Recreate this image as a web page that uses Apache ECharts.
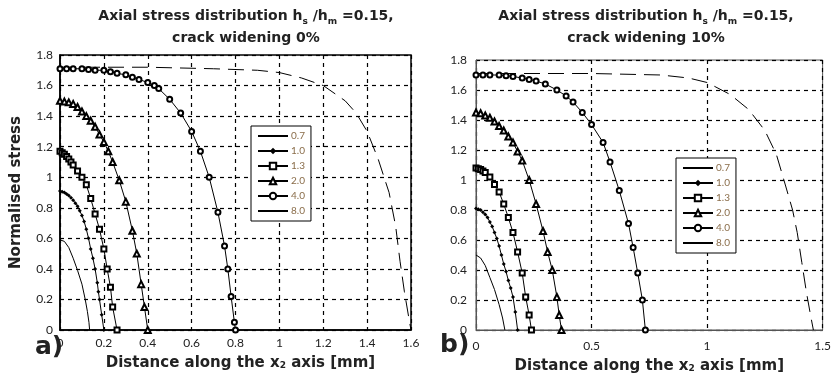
<!DOCTYPE html>
<html>
<head>
<meta charset="UTF-8">
<title>axial stress</title>
<script src="https://cdn.jsdelivr.net/npm/echarts@6/dist/echarts.min.js"></script>
<style>
    body { margin: 0; padding: 0; background: #fff; }
    #main { width: 834px; height: 379px; }
</style>
</head>
<body>
<div id="main"></div>
<script>
// legend names (ratio values)
const names = ['0.7', '1.0', '1.3', '2.0', '4.0', '8.0'];

// a) crack widening 0%  -> [distance mm, normalised stress]
const a07 = [[0,0.59],[0.02,0.58],[0.04,0.54],[0.06,0.47],[0.08,0.39],[0.1,0.3],[0.115,0.2],[0.125,0.12],[0.132,0.05],[0.135,0]];
const a10 = [[0,0.91],[0.01,0.905],[0.02,0.9],[0.03,0.89],[0.04,0.88],[0.05,0.865],[0.06,0.85],[0.07,0.83],[0.08,0.81],[0.09,0.78],[0.1,0.75],[0.11,0.71],[0.12,0.66],[0.13,0.6],[0.14,0.53],[0.15,0.47],[0.16,0.4],[0.17,0.31],[0.175,0.25],[0.18,0.2],[0.19,0.1],[0.2,0]];
const a13 = [[0,1.17],[0.01,1.16],[0.02,1.15],[0.03,1.135],[0.04,1.12],[0.05,1.1],[0.06,1.08],[0.08,1.04],[0.1,1.0],[0.12,0.95],[0.14,0.86],[0.16,0.76],[0.18,0.66],[0.2,0.53],[0.215,0.4],[0.23,0.28],[0.24,0.15],[0.26,0]];
const a20 = [[0,1.5],[0.02,1.495],[0.04,1.49],[0.06,1.48],[0.08,1.46],[0.1,1.43],[0.12,1.4],[0.14,1.37],[0.16,1.33],[0.18,1.28],[0.2,1.23],[0.22,1.17],[0.24,1.1],[0.27,0.98],[0.3,0.84],[0.33,0.65],[0.35,0.5],[0.37,0.3],[0.385,0.15],[0.4,0]];
const a40 = [[0,1.71],[0.03,1.71],[0.06,1.71],[0.1,1.71],[0.13,1.705],[0.16,1.7],[0.2,1.7],[0.23,1.69],[0.26,1.68],[0.3,1.67],[0.33,1.655],[0.36,1.64],[0.4,1.62],[0.43,1.6],[0.45,1.58],[0.5,1.51],[0.55,1.42],[0.6,1.3],[0.64,1.17],[0.68,1.0],[0.72,0.77],[0.75,0.55],[0.765,0.4],[0.78,0.22],[0.795,0.05],[0.8,0]];
const a80 = [[0,1.72],[0.4,1.72],[0.7,1.71],[0.9,1.7],[1.0,1.685],[1.1,1.65],[1.2,1.6],[1.3,1.5],[1.35,1.42],[1.4,1.3],[1.45,1.12],[1.5,0.9],[1.53,0.68],[1.55,0.45],[1.57,0.25],[1.59,0.08],[1.6,0]];

// b) crack widening 10%
const b07 = [[0,0.5],[0.02,0.48],[0.04,0.43],[0.06,0.35],[0.08,0.27],[0.1,0.17],[0.115,0.08],[0.125,0]];
const b10 = [[0,0.81],[0.01,0.805],[0.02,0.8],[0.03,0.785],[0.04,0.77],[0.05,0.75],[0.06,0.72],[0.07,0.69],[0.08,0.65],[0.09,0.61],[0.1,0.56],[0.11,0.5],[0.12,0.44],[0.13,0.39],[0.14,0.33],[0.15,0.28],[0.16,0.22],[0.17,0.12],[0.18,0]];
const b13 = [[0,1.08],[0.01,1.075],[0.02,1.07],[0.03,1.06],[0.04,1.05],[0.06,1.02],[0.08,0.97],[0.1,0.92],[0.12,0.84],[0.14,0.75],[0.16,0.65],[0.18,0.52],[0.2,0.38],[0.215,0.22],[0.23,0.1],[0.24,0]];
const b20 = [[0,1.45],[0.02,1.445],[0.04,1.43],[0.06,1.415],[0.08,1.39],[0.1,1.36],[0.12,1.33],[0.14,1.29],[0.16,1.25],[0.18,1.19],[0.2,1.13],[0.23,1.0],[0.26,0.84],[0.29,0.66],[0.31,0.52],[0.33,0.4],[0.35,0.22],[0.36,0.1],[0.37,0]];
const b40 = [[0,1.7],[0.03,1.7],[0.06,1.7],[0.1,1.7],[0.13,1.695],[0.16,1.69],[0.2,1.68],[0.23,1.67],[0.26,1.66],[0.3,1.64],[0.35,1.6],[0.39,1.56],[0.42,1.52],[0.46,1.45],[0.5,1.37],[0.55,1.25],[0.58,1.12],[0.62,0.93],[0.66,0.71],[0.68,0.55],[0.7,0.38],[0.72,0.2],[0.733,0]];
const b80 = [[0,1.71],[0.5,1.71],[0.8,1.7],[0.92,1.68],[1.0,1.65],[1.1,1.57],[1.18,1.47],[1.25,1.33],[1.3,1.17],[1.34,0.96],[1.37,0.8],[1.39,0.65],[1.41,0.45],[1.43,0.25],[1.45,0.08],[1.46,0]];

const seriesA = [a07, a10, a13, a20, a40, a80];
const seriesB = [b07, b10, b13, b20, b40, b80];

const symbols = ['none', 'diamond', 'emptyRect', 'emptyTriangle', 'emptyCircle', 'none'];
const symSizes = [0, 4, 5, 6, 5, 0];

const font = '"DejaVu Sans", sans-serif';
const labelFont = 'Lato, sans-serif';
const labelColor = '#8a6d4a';

function mkSeries(data, i, gi) {
    return {
        type: 'line',
        name: names[i],
        data: data,
        xAxisIndex: gi,
        yAxisIndex: gi,
        symbol: symbols[i],
        symbolSize: symSizes[i],
        showSymbol: symbols[i] !== 'none',
        lineStyle: {color: '#000', width: 1, type: i === 5 ? [16, 8] : 'solid'},
        itemStyle: {color: '#000', borderWidth: 0.8},
        animation: false
    };
}

function fmt(v) {
    return String(+v.toFixed(2));
}

const dashed = {color: '#000', width: 1.2, type: [4, 4]};
const subRich = {sub: {fontSize: 9, fontFamily: font, fontWeight: 'bold', color: '#222', verticalAlign: 'bottom', padding: [0, 0, 1, 0]}};

function legendFor(left, top) {
    return {
        orient: 'vertical',
        left: left,
        top: top,
        data: names.map(n => (n === '0.7' || n === '8.0')
            ? {name: n, itemStyle: {opacity: 0}, lineStyle: {type: 'solid'}}
            : n),
        itemWidth: 30,
        itemHeight: 8,
        itemGap: 3,
        padding: [4, 6, 4, 6],
        borderColor: '#000',
        borderWidth: 1,
        backgroundColor: '#fff',
        selectedMode: false,
        textStyle: {color: labelColor, fontSize: 10, lineHeight: 12, fontFamily: labelFont, padding: [0, 0, 0, -2]}
    };
}

const chart = echarts.init(document.getElementById('main'), null, {renderer: 'canvas'});

chart.setOption({
    backgroundColor: '#fff',
    animation: false,
    title: [
        {
            text: 'Axial stress distribution h{sub|s} /h{sub|m} =0.15,\ncrack widening 0%',
            left: 241, top: 0, textAlign: 'center',
            textStyle: {fontSize: 14, fontWeight: 'bold', color: '#222', fontFamily: font, lineHeight: 22, rich: subRich}
        },
        {
            text: 'Axial stress distribution h{sub|s} /h{sub|m} =0.15,\ncrack widening 10%',
            left: 641, top: 0, textAlign: 'center',
            textStyle: {fontSize: 14, fontWeight: 'bold', color: '#222', fontFamily: font, lineHeight: 22, rich: subRich}
        }
    ],
    legend: [legendFor(251, 126), legendFor(676, 158)],
    grid: [
        {left: 60, right: 423, top: 55, bottom: 49, show: true, borderColor: '#000', borderWidth: 1.5, containLabel: false},
        {left: 476, right: 8, top: 60, bottom: 46, show: true, borderColor: '#555', borderWidth: 1, containLabel: false}
    ],
    xAxis: [
        {
            gridIndex: 0, type: 'value', min: 0, max: 1.6, interval: 0.2,
            name: 'Distance along the x{sub|2} axis [mm]', nameLocation: 'middle', nameGap: 26,
            nameTextStyle: {fontSize: 15, fontWeight: 'bold', color: '#222', fontFamily: font, padding: [0, 0, 0, 10], rich: subRich},
            axisLine: {lineStyle: {color: '#000', width: 1.5}},
            axisTick: {show: false},
            axisLabel: {color: '#222', fontSize: 12, fontFamily: labelFont, margin: 7, formatter: fmt},
            splitLine: {show: true, lineStyle: dashed}
        },
        {
            gridIndex: 1, type: 'value', min: 0, max: 1.5, interval: 0.5,
            name: 'Distance along the x{sub|2} axis [mm]', nameLocation: 'middle', nameGap: 29,
            nameTextStyle: {fontSize: 15, fontWeight: 'bold', color: '#222', fontFamily: font, rich: subRich},
            axisLine: {lineStyle: {color: '#555', width: 1}},
            axisTick: {show: false},
            axisLabel: {color: '#222', fontSize: 12, fontFamily: labelFont, margin: 10, formatter: fmt},
            splitLine: {show: true, lineStyle: dashed}
        }
    ],
    yAxis: [
        {
            gridIndex: 0, type: 'value', min: 0, max: 1.8, interval: 0.2,
            name: 'Normalised stress', nameLocation: 'middle', nameGap: 36,
            nameTextStyle: {fontSize: 15, fontWeight: 'bold', color: '#222', fontFamily: font},
            axisLine: {lineStyle: {color: '#000', width: 1.5}},
            axisTick: {show: false},
            axisLabel: {color: '#222', fontSize: 12, fontFamily: labelFont, margin: 7, formatter: fmt},
            splitLine: {show: true, lineStyle: dashed}
        },
        {
            gridIndex: 1, type: 'value', min: 0, max: 1.8, interval: 0.2,
            axisLine: {lineStyle: {color: '#555', width: 1}},
            axisTick: {show: false},
            axisLabel: {color: '#222', fontSize: 12, fontFamily: labelFont, margin: 9, formatter: fmt},
            splitLine: {show: true, lineStyle: dashed}
        }
    ],
    graphic: [
        {type: 'text', left: 35, top: 335, style: {text: 'a)', fontSize: 25, fontWeight: 'bold', fill: '#222', fontFamily: font}},
        {type: 'text', left: 440, top: 333, style: {text: 'b)', fontSize: 25, fontWeight: 'bold', fill: '#222', fontFamily: font}}
    ],
    series: seriesA.map((d, i) => mkSeries(d, i, 0)).concat(seriesB.map((d, i) => mkSeries(d, i, 1)))
});
</script>
</body>
</html>
